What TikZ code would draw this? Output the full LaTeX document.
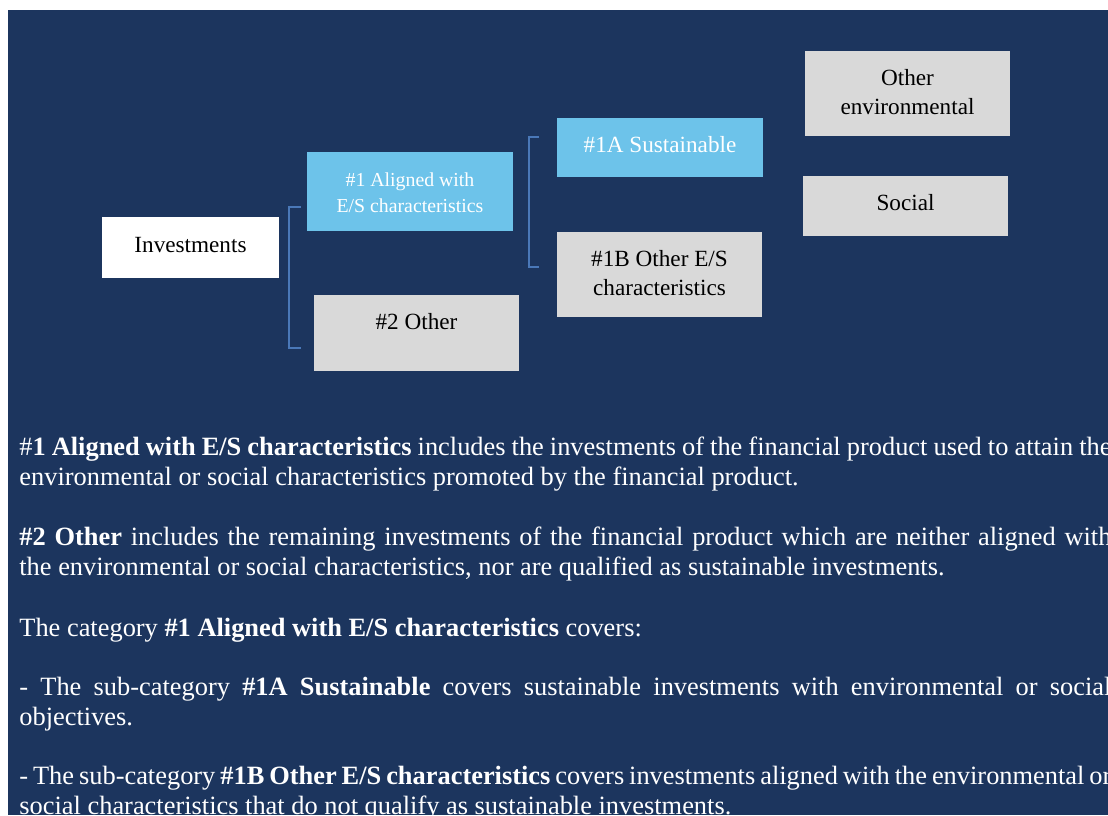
\documentclass[tikz,border=0pt]{standalone}
\usepackage{fontspec}
\setmainfont{Liberation Serif}
\usetikzlibrary{fit}
\definecolor{navy}{RGB}{28,53,94}
\definecolor{skyb}{RGB}{109,195,234}
\definecolor{lgray}{RGB}{217,217,217}
\definecolor{brk}{RGB}{74,120,184}
\newcommand\btext[2][-4.5pt]{\raisebox{#1}[\height][\depth]{\begin{tabular}{@{}c@{}}#2\end{tabular}}}
\tikzset{
  box/.style={draw=none, inner sep=0pt, align=center, font=\fontsize{11.6}{14.5}\selectfont},
  graybox/.style={box, fill=lgray, text=black},
  whitebox/.style={box, fill=white, text=black},
  bluebox/.style={box, fill=skyb, text=white},
  bracket/.style={draw=brk, line width=1pt},
  para/.style={anchor=base west, inner sep=0pt, text width=546pt, align=justify, text=white, font=\fontsize{13.2}{15}\selectfont}
}
\begin{document}
\begin{tikzpicture}[x=0.5pt,y=-0.5pt]
\useasboundingbox (0,0) rectangle (1108,815);
\fill[white] (0,0) rectangle (1108,815);
\fill[navy] (8,10) rectangle (1108,815);

\node[whitebox, fit={(102,217) (279,278)}] (inv) {\btext{Investments}};
\node[bluebox, fit={(307,152) (513,231)}, font=\fontsize{9.9}{13}\selectfont] (a1) {\btext[-9pt]{\#1 Aligned with\\E/S characteristics}};
\node[graybox, fit={(314,295) (519,371)}] (o2) {\btext[-0.5pt]{\#2 Other}};
\node[bluebox, fit={(557,118) (763,177)}] (s1a) {\btext{\#1A Sustainable}};
\node[graybox, fit={(557,232) (762,317)}] (o1b) {\btext[-9pt]{\#1B Other E/S\\characteristics}};
\node[graybox, fit={(805,51) (1010,136)}] (oenv) {\btext[-9pt]{Other\\environmental}};
\node[graybox, fit={(803,176) (1008,236)}] (soc) {\btext{Social}};

\coordinate (b1t) at (301,207);
\coordinate (b1b) at (301,348);
\coordinate (b2t) at (539,137);
\coordinate (b2b) at (539,267);
\draw[bracket] (b1t) -- ++(-12,0) -- ++(0,141) -- (b1b);
\draw[bracket] (b2t) -- ++(-10,0) -- ++(0,130) -- (b2b);

\node[para] (p1) at (19,455) {\#\textbf{1 Aligned with E/S characteristics} includes the investments of the financial product used to attain the\linebreak environmental or social characteristics promoted by the financial product.};
\node[para] (p2) at (19,545) {\textbf{\#2 Other} includes the remaining investments of the financial product which are neither aligned with\linebreak the environmental or social characteristics, nor are qualified as sustainable investments.};
\node[para] (p3) at (19,636) {The category \textbf{\#1 Aligned with E/S characteristics} covers:};
\node[para] (p4) at (19,695) {- The sub-category \textbf{\#1A Sustainable} covers sustainable investments with environmental or social\linebreak objectives.};
\node[para] (p5) at (19,784) {- The sub-category \textbf{\#1B Other E/S characteristics} covers investments aligned with the environmental or\linebreak social characteristics that do not qualify as sustainable investments.};
\end{tikzpicture}
\end{document}
